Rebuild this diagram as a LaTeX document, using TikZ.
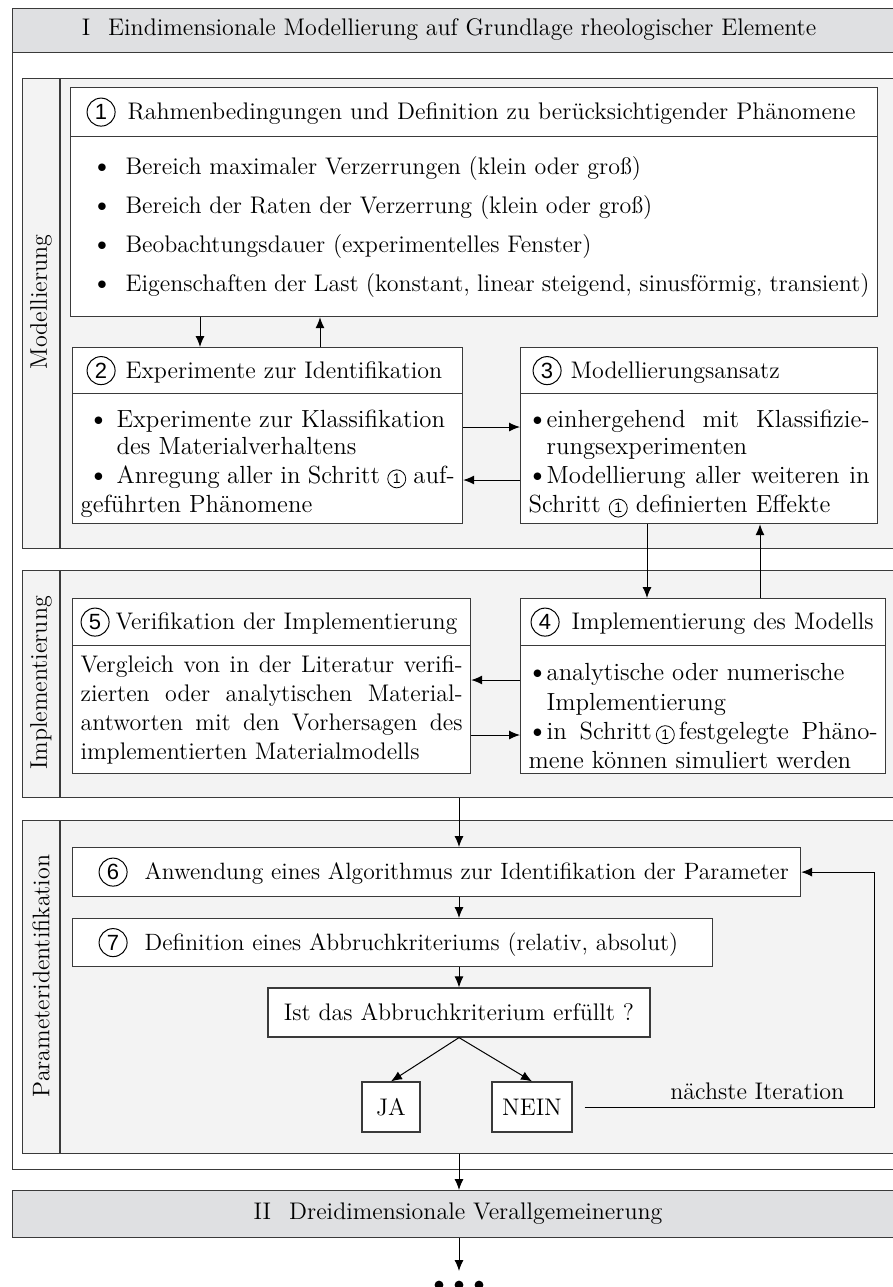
\documentclass[tikz,border=0pt]{standalone}
\usepackage{fontspec}
\newfontfamily\numfont{Liberation Sans}
\usetikzlibrary{arrows.meta, calc, positioning}
\definecolor{framegray}{HTML}{3A3A3A}
\definecolor{headgray}{HTML}{DFE0E2}
\definecolor{panelgray}{HTML}{F3F3F3}

\tikzset{
  frame/.style={draw=framegray, line width=0.6pt},
  titlerow/.style={frame, fill=white, anchor=north west, inner ysep=0pt, align=left},
  bodyrow/.style={frame, fill=white, anchor=north west, inner ysep=0pt, align=justify},
  panel/.style={frame, fill=panelgray, anchor=north west, inner sep=0pt},
  answer/.style={frame, fill=white, inner sep=0pt, minimum height=25pt},
  flow/.style={-{Latex[length=5.5pt,width=4.5pt]}, black, line width=0.5pt},
}

% circled step numbers (big in titles, small inside text)
\newcommand{\nr}[1]{\tikz[baseline=(nrc.base)]\node[circle, draw=black, fill=white,
  line width=0.5pt, inner sep=0pt, minimum size=14pt, text width={}, align=center,
  font=\numfont\fontsize{11}{11}\selectfont] (nrc) {#1};}
\newcommand{\snr}[1]{\tikz[baseline=(snrc.base)]\node[circle, draw=black, fill=white,
  line width=0.4pt, inner sep=0pt, minimum size=9pt, text width={}, align=center,
  font=\numfont\fontsize{7}{7}\selectfont] (snrc) {#1};}
% bullet with hanging indent, #1 = width of the bullet column
\newcommand{\itm}[1][12pt]{\par\noindent\hangindent=#1\hangafter=1%
  \makebox[#1][c]{\fontsize{14}{14}\selectfont\textbullet}}

\begin{document}
\begin{tikzpicture}[x=1pt, y=-1pt, font=\fontsize{12}{14.5}\selectfont]
\useasboundingbox (0,0) rectangle (446.5,643.5);

% --- MACRO: STEP BOX WITH TITLE ROW AND BODY ---
% #1 name, #2 left, #3 right, #4 top, #5 divider, #6 bottom
% #7 title, #8 body, #9 left inset of the title
\newcommand{\drawStepBox}[9]{
    \pgfmathsetmacro{\tw}{#3-#2-2*#9}
    \pgfmathsetmacro{\btw}{#3-#2-8}
    \pgfmathsetmacro{\th}{#5-#4}
    \pgfmathsetmacro{\bh}{#6-#5}
    \node[titlerow, inner xsep=#9pt, text width=\tw pt, minimum height=\th pt]
        (#1t) at (#2,#4) {#7};
    \node[bodyrow, inner xsep=4pt, text width=\btw pt, minimum height=\bh pt]
        (#1b) at (#2,#5) {#8};
}

% --- FRAMES ---
\node[frame, fill=headgray, anchor=north west, inner sep=0pt,
      minimum width=474pt, minimum height=22pt] (head) at (6,4) {};
\node (headtext) at (224.5,15)
    {I\hspace{9pt}Eindimensionale Modellierung auf Grundlage rheologischer Elemente};
\node[frame, fill=white, anchor=north west, inner sep=0pt,
      minimum width=474pt, minimum height=558.5pt] (outer) at (6,26) {};

\node[panel, minimum width=469pt, minimum height=235pt] (modpanel) at (11,39) {};
\node[panel, minimum width=469pt, minimum height=113.5pt] (implpanel) at (11,285) {};
\node[panel, minimum width=469pt, minimum height=166.5pt] (parampanel) at (11,410) {};
\foreach \p in {modpanel, implpanel, parampanel}
    \draw[frame] (\p.north west) ++(19,0) -- ($(\p.south west)+(19,0)$);

\node[rotate=90] (modlabel) at (20.5,151) {Modellierung};
\node[rotate=90] (impllabel) at (20.5,341.5) {Implementierung};
\node[rotate=90] (paramlabel) at (20.5,488) {Parameteridentifikation};

% --- MODELLIERUNG ---
\drawStepBox{s1}{35}{438.5}{43.5}{68}{158}
    {\nr{1}\hspace{6pt}Rahmenbedingungen und Definition zu berücksichtigender Phänomene}
    {\vspace*{-5pt}
     \itm[23.5pt]Bereich maximaler Verzerrungen (klein oder groß)\par\vspace{5pt}
     \itm[23.5pt]Bereich der Raten der Verzerrung (klein oder groß)\par\vspace{5pt}
     \itm[23.5pt]Beobachtungsdauer (experimentelles Fenster)\par\vspace{5pt}
     \itm[23.5pt]Eigenschaften der Last (konstant, linear steigend, sinusförmig, transient)}
    {8}
\drawStepBox{s2}{36}{231}{173.5}{196.5}{261.5}
    {\nr{2}\hspace{5pt}Experimente zur Identifikation}
    {\fontsize{12.4}{13.8}\selectfont
     \itm[18pt]Experimente zur Klassifikation\newline des Materialverhaltens
     \itm[18pt]Anregung aller in Schritt~\snr{1} auf-\linebreak geführten Phänomene}
    {7}
\drawStepBox{s3}{260}{438.5}{173.5}{196.5}{261.5}
    {\nr{3}\hspace{4.5pt}Modellierungsansatz}
    {\fontsize{12.4}{13.8}\selectfont
     \itm[9pt]einhergehend mit Klassifizie-\linebreak rungsexperimenten
     \itm[9pt]Modellierung aller weiteren in\linebreak Schritt~\snr{1} definierten Effekte}
    {6}

% --- IMPLEMENTIERUNG ---
\drawStepBox{s5}{36}{235}{299}{322.5}{386.5}
    {\nr{5}\hspace{3pt}Verifikation der Implementierung}
    {\fontsize{12}{15}\selectfont\leftskip=5pt\noindent
     Vergleich von in der Literatur verifi-\linebreak zierten oder analytischen Material-\linebreak
     antworten mit den Vorhersagen des\linebreak implementierten Materialmodells}
    {4}
\drawStepBox{s4}{260}{442.5}{299}{322.5}{386.5}
    {\nr{4}\hspace{6pt}Implementierung des Modells}
    {\fontsize{12.4}{15}\selectfont
     \itm[9pt]analytische oder numerische\newline Implementierung
     \itm[9pt]in Schritt\,\snr{1}\,festgelegte Phäno-\linebreak mene können simuliert werden}
    {5}

% --- PARAMETERIDENTIFIKATION ---
\node[titlerow, inner xsep=4pt, text width=356pt, minimum height=24.5pt,
      font=\fontsize{11.8}{14}\selectfont] (s6) at (36,423.5)
    {\mbox{\hspace*{9pt}\nr{6}\hspace{8.5pt}Anwendung eines Algorithmus zur Identifikation der Parameter}};
\node[titlerow, inner xsep=4pt, text width=312pt, minimum height=24pt,
      font=\fontsize{11.8}{14}\selectfont] (s7) at (36,459)
    {\mbox{\hspace*{9pt}\nr{7}\hspace{8.5pt}Definition eines Abbruchkriteriums (relativ, absolut)}};
\node[frame, fill=white, minimum width=191pt, minimum height=24.5pt] (check) at (229.5,506.25)
    {Ist das Abbruchkriterium erfüllt ?};
\node[answer, minimum width=29pt] (ja) at (195.5,553.5) {JA};
\node[answer, minimum width=40pt] (nein) at (266,553.5) {NEIN};

% --- STAGE II ---
\node[frame, fill=headgray, anchor=north west, inner sep=0pt,
      minimum width=474pt, minimum height=23.5pt] (stage2) at (6,595) {};
\node (stage2text) at (229,606.75) {II\hspace{9pt}Dreidimensionale Verallgemeinerung};
\coordinate (dots) at (229.5,642.5);
\foreach \dx in {-10,0,10}
    \fill ($(dots)+(\dx,0)$) circle (2.2pt);

% --- CONNECTORS ---
\coordinate (xa) at (100,0);
\coordinate (xb) at (160,0);
\coordinate (xc) at (323.5,0);
\coordinate (xd) at (380,0);
\coordinate (xe) at (229.5,0);
\coordinate (xloop) at (437,0);
\coordinate (ya) at (0,213.5);
\coordinate (yb) at (0,240);
\coordinate (yc) at (0,340);
\coordinate (yd) at (0,367.5);

\draw[flow] (s1b.south -| xa) -- (s2t.north -| xa);
\draw[flow] (s2t.north -| xb) -- (s1b.south -| xb);
\draw[flow] (s2b.east |- ya) -- (s3b.west |- ya);
\draw[flow] (s3b.west |- yb) -- (s2b.east |- yb);
\draw[flow] (s3b.south -| xc) -- (s4t.north -| xc);
\draw[flow] (s4t.north -| xd) -- (s3b.south -| xd);
\draw[flow] (s4b.west |- yc) -- (s5b.east |- yc);
\draw[flow] (s5b.east |- yd) -- (s4b.west |- yd);

\draw[flow] (implpanel.south -| xe) -- (s6.north -| xe);
\draw[flow] (s6.south -| xe) -- (s7.north -| xe);
\draw[flow] (s7.south -| xe) -- (check.north);
\draw[flow] (check.south) -- (ja.north);
\draw[flow] (check.south) -- (nein.north);
\coordinate (loopstart) at ($(nein.east)+(6,0)$);
\draw[flow] (loopstart) -- node[above, xshift=14pt] (iterlabel) {nächste Iteration}
    (loopstart -| xloop) -- (s6.east -| xloop) -- (s6.east);
\draw[flow] (parampanel.south -| xe) -- (stage2.north -| xe);
\draw[flow] (stage2.south -| xe) -- ($(dots)+(0,-7)$);

\end{tikzpicture}
\end{document}
